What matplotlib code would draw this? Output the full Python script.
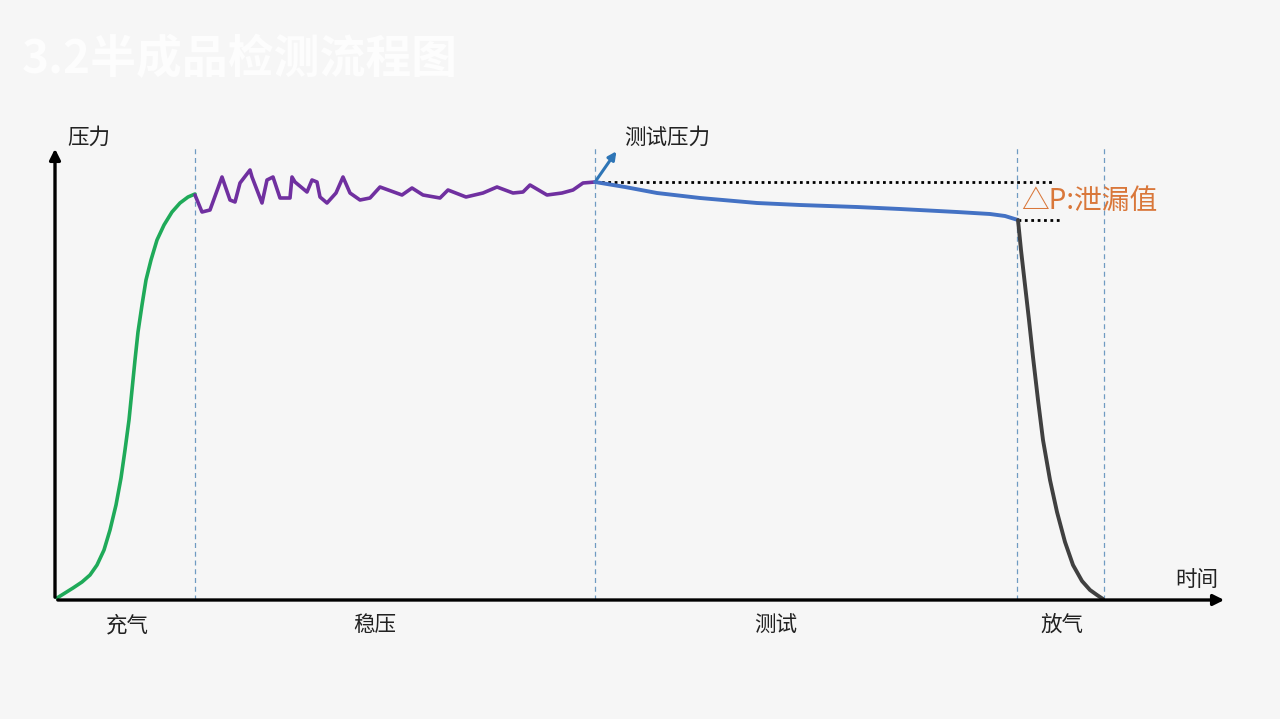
import numpy as np
import matplotlib
matplotlib.use("Agg")
import matplotlib.pyplot as plt
from matplotlib.patches import FancyArrowPatch

plt.rcParams['font.family'] = ['Noto Sans CJK SC', 'DejaVu Sans']

# time / pressure readings (arbitrary units, origin at the axes corner)
fill_t = [2, 10, 18, 27, 35, 42, 49, 55, 61, 66, 70, 74, 77, 80, 83, 87, 91, 96, 102, 109, 117, 125, 133, 140]
fill_p = [2, 7, 12, 18, 25, 35, 50, 70, 95, 122, 150, 180, 210, 240, 268, 295, 320, 340, 360, 375, 388, 397, 403, 406]

hold_t = [140, 147, 155, 167, 175, 180, 185, 195, 197, 207, 212, 218, 225, 235, 237, 240, 252, 257, 262, 265,
          272, 281, 288, 295, 305, 315, 325, 347, 357, 368, 385, 393, 411, 428, 442, 458, 468, 475, 492, 507,
          518, 528, 540]
hold_p = [405, 388, 390, 423, 400, 398, 417, 430, 423, 397, 420, 423, 402, 402, 423, 418, 408, 420, 418, 403,
          397, 407, 423, 407, 400, 402, 413, 405, 412, 405, 402, 410, 403, 407, 413, 407, 408, 415, 405, 407,
          410, 417, 418]

test_t = [540, 570, 602, 645, 702, 745, 802, 845, 902, 935, 950, 963]
test_p = [418, 413, 407, 402, 397, 395, 393, 391, 388, 386, 384, 380]

vent_t = [963, 966, 970, 974, 978, 983, 988, 995, 1002, 1010, 1018, 1027, 1035, 1042, 1048]
vent_p = [380, 350, 315, 280, 243, 200, 160, 120, 88, 58, 35, 19, 10, 5, 1]

phase_bounds = [140, 540, 962, 1049]
phase_names = ['充气', '稳压', '测试', '放气']
phase_label_t = [72, 320, 721, 1007]

test_pressure = 418
end_pressure = 380

bg = '#f6f6f6'
fig = plt.figure(figsize=(12.8, 7.19), dpi=100, facecolor=bg)
ax = fig.add_axes([0, 0, 1, 1])
ax.set_facecolor(bg)
ax.set_xlim(-55, 1225)
ax.set_ylim(-119, 600)
ax.axis('off')

# phase separators
for b in phase_bounds:
    ax.plot([b, b], [0, 452], ls=(0, (4, 3)), color='#6f9bc2', lw=0.9, zorder=1)

# dotted reference lines
ax.plot([540, 998], [test_pressure, test_pressure], ls=(0, (1, 1.3)), color='black', lw=2.0, zorder=2)
ax.plot([963, 1005], [end_pressure, end_pressure], ls=(0, (1, 1.3)), color='black', lw=2.0, zorder=2)

kw = dict(solid_capstyle='round', solid_joinstyle='round', zorder=3)
ax.plot(fill_t, fill_p, color='#1faa59', lw=2.6, **kw)
ax.plot(hold_t, hold_p, color='#7030a0', lw=2.6, **kw)
ax.plot(test_t, test_p, color='#4472c4', lw=2.8, **kw)
ax.plot(vent_t, vent_p, color='#404040', lw=2.8, **kw)

# axes with arrows
ax.add_patch(FancyArrowPatch((0, 0), (0, 454), arrowstyle='-|>', mutation_scale=16,
                             color='black', lw=2.4, zorder=4))
ax.add_patch(FancyArrowPatch((0, 0), (1172, 0), arrowstyle='-|>', mutation_scale=16,
                             color='black', lw=2.4, zorder=4))

# test pressure arrow
ax.add_patch(FancyArrowPatch((540, test_pressure), (563, 451), arrowstyle='-|>', mutation_scale=12,
                             color='#2e75b6', lw=2.2, zorder=4))

fs = 15.5
ax.text(12, 462, '压力', fontsize=fs, va='center', ha='left', color='#222222')
ax.text(569, 462, '测试压力', fontsize=fs, va='center', ha='left', color='#222222')
ax.text(1142, 20, '时间', fontsize=fs, va='center', ha='center', color='#222222')
for t, name in zip(phase_label_t, phase_names):
    ax.text(t, -25, name, fontsize=fs, va='center', ha='center', color='#222222')

ax.text(966, 399, '△P:泄漏值', fontsize=20, va='center', ha='left', color='#d9773a')

# title (white on light background)
ax.text(-33, 540, '3.2半成品检测流程图', fontsize=33, fontweight='bold', va='center', ha='left',
        color='#fdfdfd')

fig.savefig('out.png', dpi=100, facecolor=bg)
